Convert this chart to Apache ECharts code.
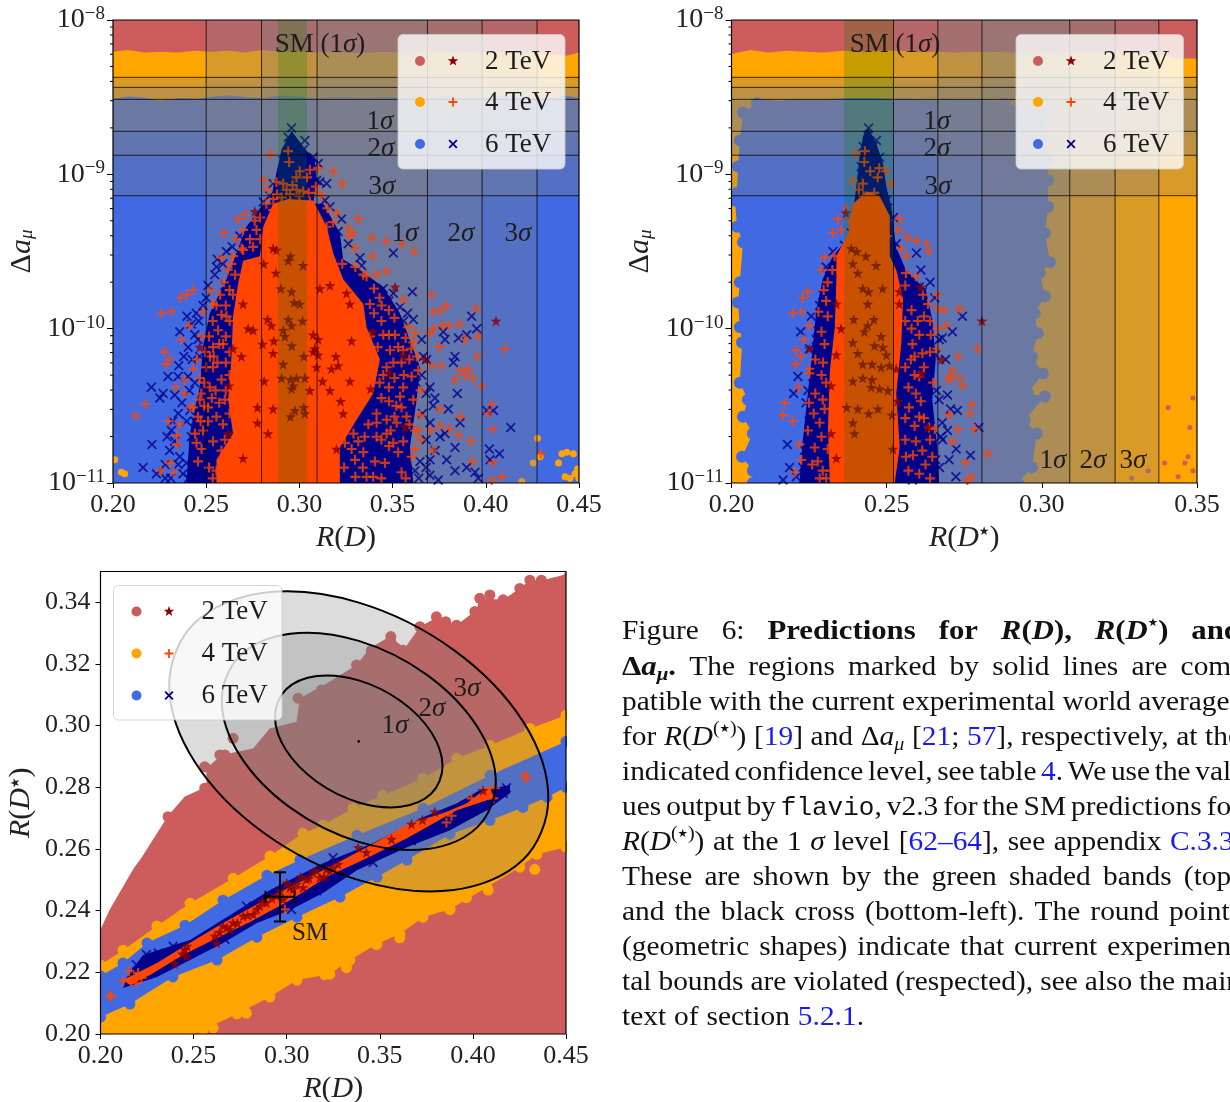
<!DOCTYPE html>
<html><head><meta charset="utf-8"><style>html,body{margin:0;padding:0;background:#fff}#c{width:1230px;height:1102px}</style>
<script src="https://cdn.jsdelivr.net/npm/echarts@6/dist/echarts.min.js"></script></head><body><div id="c"></div>
<script>
// ---------- colours
const RED='#cd5c5c',ORANGE='#ffa500',BLUE='#4169e1',STAR='#8b0000',PLUS='#ff4500',CROSS='#00008b';
const legendRows=['2 TeV','4 TeV','6 TeV'];
// ---------- experimental bands (top panels)
const dAmuBands=[[7.27e-10,4.25e-9],[1.33e-9,3.66e-9],[1.90e-9,3.06e-9]];
const rdBands=[[0.2500,0.4275],[0.2797,0.3980],[0.3095,0.3687]];
const rdsBands=[[0.2522,0.3377],[0.2665,0.3236],[0.2807,0.3090]];
const smRD=[0.2885,0.3041], smRDs=[0.2363,0.2522];
// ---------- panel A : R(D) vs log10(Δaμ)
const orangeTopA=[[.2,-8.205],[.208,-8.195],[.217,-8.21],[.226,-8.205],[.235,-8.21],[.244,-8.2],[.253,-8.205],[.262,-8.2],[.271,-8.21],[.28,-8.195],[.289,-8.205],[.298,-8.2],[.307,-8.21],[.316,-8.205],[.325,-8.21],[.334,-8.215],[.343,-8.205],[.352,-8.21],[.361,-8.205],[.37,-8.2],[.379,-8.21],[.388,-8.205],[.397,-8.21],[.406,-8.205],[.415,-8.215],[.424,-8.21],[.433,-8.22],[.442,-8.235],[.45,-8.21]];
const blueTopA=[[.2,-8.51],[.209,-8.495],[.218,-8.505],[.225,-8.525],[.236,-8.505],[.245,-8.51],[.254,-8.495],[.263,-8.49],[.272,-8.5],[.281,-8.505],[.29,-8.49],[.299,-8.495],[.308,-8.505],[.317,-8.5],[.326,-8.5],[.335,-8.505],[.344,-8.5],[.353,-8.5],[.362,-8.5],[.371,-8.505],[.38,-8.495],[.389,-8.5],[.398,-8.505],[.407,-8.495],[.416,-8.5],[.425,-8.505],[.434,-8.51],[.442,-8.49],[.45,-8.505]];
const orangeBlobsA=[[.4434,-10.80],[.447,-10.81],[.4408,-10.81],[.4479,-10.94],[.4452,-10.97],[.4425,-10.96],[.4492,-10.91],[.4499,-10.97],[.439,-10.87],[.4277,-10.71],[.4291,-10.83],[.4255,-10.87],[.4193,-10.99],[.2009,-10.85],[.2045,-10.93],[.2063,-10.94]];
const corePlusA=[[.294,-9.16],[.2859,-9.19],[.2806,-9.34],[.2788,-9.53],[.2698,-9.56],[.2671,-9.71],[.2644,-9.92],[.2635,-10.20],[.2618,-10.46],[.2644,-10.68],[.2555,-10.85],[.2555,-11],[.3217,-11],[.3217,-10.77],[.3307,-10.59],[.3396,-10.42],[.3432,-10.20],[.3360,-9.99],[.3343,-9.84],[.3235,-9.68],[.3181,-9.51],[.3146,-9.34],[.3074,-9.17]];
const coreCrossA=[[.2958,-8.72],[.302,-8.82],[.3083,-8.91],[.3092,-9.04],[.3074,-9.19],[.2841,-9.19],[.2877,-8.99],[.2904,-8.84]];
const haloCrossA=[[.2806,-9.19],[.2716,-9.34],[.2662,-9.51],[.2609,-9.68],[.2519,-9.90],[.2483,-10.12],[.2465,-10.38],[.2412,-10.68],[.2394,-11],[.3611,-11],[.3593,-10.77],[.3629,-10.46],[.3647,-10.25],[.3539,-9.90],[.345,-9.73],[.3325,-9.62],[.3235,-9.55],[.3217,-9.38],[.3128,-9.19]];
const crossA=[[.2161,-10.90],[.2206,-10.38],[.2251,-10.45],[.2269,-10.42],[.2209,-10.75],[.2233,-10.94],[.2295,-10.31],[.2349,-10.31],[.2358,-10.02],[.2331,-10.43],[.2353,-10.24],[.2397,-9.92],[.2447,-9.90],[.2439,-10.04],[.2403,-10.12],[.2456,-10.07],[.2483,-9.85],[.2465,-10.18],[.2439,-10.35],[.2412,-10.53],[.2403,-10.31],[.2313,-10.66],[.2331,-10.73],[.2304,-10.79],[.2358,-10.83],[.2394,-10.87],[.2430,-10.94],[.2376,-10.94],[.2465,-10.85],[.2501,-10.79],[.2537,-10.85],[.2483,-10.92],[.2555,-9.60],[.2546,-9.65],[.2635,-9.67],[.2600,-9.72],[.2644,-9.73],[.2698,-9.84],[.2546,-9.99],[.2573,-10.02],[.2519,-10.29],[.2501,-10.55],[.2546,-10.73],[.2591,-10.83],[.2644,-10.90],[.2698,-10.94],[.2573,-10.94],[.2618,-10.77],[.2662,-10.72],
[.3217,-9.64],[.3262,-9.62],[.3334,-9.59],[.3450,-9.74],[.3504,-9.77],[.3606,-9.76],[.3540,-9.86],[.3468,-9.97],[.3450,-9.93],[.3504,-10.02],[.3611,-9.94],[.3325,-9.97],[.3414,-10.07],[.3468,-10.10],[.3450,-10.20],[.3486,-10.29],[.3548,-10.31],[.3602,-10.26],[.3656,-10.07],[.3665,-10.18],[.3683,-10.20],[.3629,-10.35],[.3656,-10.30],[.3522,-10.40],[.3575,-10.42],[.3727,-10.45],[.3718,-10.50],[.3799,-10.52],[.3847,-10.42],[.3826,-10.22],[.3835,-10.18],[.3772,-10.02],[.3781,-10.07],[.3853,-10.06],[.3898,-10.04],[.3951,-10.0],[.3924,-9.92],[.4005,-10.53],[.4041,-10.53],[.4134,-10.64],[.3862,-10.61],[.3701,-10.61],[.3754,-10.70],[.3781,-10.68],[.3835,-10.77],[.3728,-10.79],[.4019,-10.78],[.4073,-10.81],[.4023,-10.85],[.3897,-10.90],[.3942,-10.93],[.3960,-10.97],[.3835,-10.92],[.3790,-10.85],[.3745,-10.98],[.3701,-10.85],[.3647,-10.86],[.3620,-10.92],
[.2958,-8.70],[.294,-8.76],[.3029,-8.78],[.2949,-8.80],[.2985,-8.83],[.2931,-8.86],[.3020,-8.84],[.3074,-8.89],[.3101,-8.93],[.2913,-8.91],[.2859,-9.06],[.3110,-9.05],[.3146,-9.06],[.3092,-9.04],[.3137,-9.17],[.3164,-9.21],[.3226,-9.29],[.3208,-9.37],[.3262,-9.45],[.3199,-9.47],[.3504,-9.51],[.3325,-9.54],[.2608,-9.50],[.2806,-9.18],[.2841,-9.14],[.2770,-9.34],[.2716,-9.47],[.2752,-9.51],[.2823,-9.32],
[.2445,-10.80],[.2420,-10.70],[.2395,-10.60],[.2370,-10.48],[.2350,-10.55],[.2320,-10.60],[.2290,-10.70],[.2280,-10.88],[.2310,-10.97],[.2350,-10.88],[.2280,-10.97],[.2405,-10.97],[.2440,-10.60],[.2425,-10.20],[.2380,-10.18],[.2410,-10.40],[.2420,-9.97],[.2460,-9.95],[.2500,-9.80],[.2510,-9.72],[.2560,-9.55],[.2590,-9.58],[.2640,-9.47],[.2680,-9.40],[.3680,-10.42],[.3660,-10.55],[.3700,-10.38],[.3680,-10.72],[.3640,-10.97],[.3700,-10.95],[.3680,-10.90],[.3560,-9.95],[.3580,-9.90],[.3480,-9.82]];
const plusA=[[.2847,-8.87],[.2940,-8.85],[.2945,-8.92],[.3002,-8.98],[.3056,-8.97],[.3101,-8.96],[.3181,-8.98],[.3230,-9.06],[.2984,-9.02],[.3041,-9.02],[.2809,-9.04],[.2877,-9.05],[.2913,-9.06],[.2963,-9.07],[.3088,-9.08],[.3092,-9.12],[.2931,-9.10],[.2985,-9.10],[.3020,-9.11],[.3056,-9.18],[.2823,-9.19],[.2859,-9.23],[.2671,-9.29],[.2710,-9.26],[.2760,-9.30],[.2698,-9.36],[.2596,-9.38],[.2770,-9.36],[.2698,-9.49],[.2752,-9.47],[.2644,-9.53],[.2581,-9.54],[.3074,-9.25],[.3181,-9.31],[.3316,-9.29],[.3262,-9.35],[.3284,-9.38],[.3388,-9.41],[.3465,-9.43],[.3552,-9.45],[.3616,-9.50],[.3392,-9.53],[.3298,-9.48],[.3146,-9.34],
[.2122,-10.565],[.2175,-10.49],[.2277,-10.15],[.2304,-10.20],[.2286,-10.23],[.226,-9.90],[.2313,-9.89],[.2362,-9.80],[.2397,-9.78],[.243,-9.75],[.2299,-10.60],[.2358,-10.62],[.2344,-10.69],[.2344,-10.75],[.2304,-10.87],[.2256,-10.92],[.2326,-10.93],[.2337,-10.38],[.2385,-10.33],[.2385,-10.42],[.2415,-10.51],[.243,-10.26],[.2367,-10.07],[.2408,-9.98],[.2483,-9.89],[.2523,-9.75],
[.3709,-9.78],[.3718,-9.89],[.3758,-9.88],[.379,-9.85],[.3947,-9.87],[.3718,-10.0],[.37,-10.03],[.3769,-9.98],[.38,-9.98],[.3858,-9.97],[.3888,-10.07],[.396,-10.05],[.4103,-10.13],[.3955,-10.18],[.3751,-10.12],[.3906,-10.26],[.3862,-10.27],[.3888,-10.30],[.393,-10.32],[.3978,-10.37],[.3835,-10.33],[.371,-10.24],[.3758,-10.24],[.4032,-10.49],[.4014,-10.55],[.3865,-10.57],[.3754,-10.52],[.4037,-10.65],[.3853,-10.69],[.3754,-10.63],[.3804,-10.65],[.3706,-10.66],[.3919,-10.73],[.3715,-10.79],[.393,-10.86],[.4037,-10.87],[.4085,-10.96],[.4032,-10.98],[.4295,-10.81],
[.2537,-10.12],[.2591,-10.10],[.2564,-10.01],[.2609,-9.92],[.2537,-9.84],[.2582,-9.91],[.2644,-9.78],[.2537,-10.25],[.2582,-10.33],[.2519,-10.38],[.2465,-10.46],[.2474,-10.42],[.2456,-10.57],[.2510,-10.51],[.2555,-10.57],[.2600,-10.46],[.2448,-10.74],[.2537,-10.73],[.2483,-10.66],[.2555,-10.92],[.2626,-10.83],[.2689,-10.94],[.2716,-10.85],[.2456,-10.86],[.2582,-10.79],[.2465,-10.32],[.2430,-10.51],
[.345,-10.04],[.3513,-10.04],[.3557,-9.81],[.3414,-9.65],[.3468,-9.63],[.3343,-9.65],[.3378,-9.84],[.3441,-9.85],[.3504,-10.22],[.3486,-10.14],[.3468,-10.25],[.3584,-9.99],[.3620,-10.03],[.3611,-10.09],[.3557,-10.14],[.3548,-10.22],[.3602,-10.31],[.3638,-10.27],[.3557,-10.38],[.3548,-10.51],[.3575,-10.57],[.3611,-10.46],[.3414,-10.55],[.3414,-10.61],[.3468,-10.59],[.3522,-10.61],[.3468,-10.68],[.3414,-10.70],[.3343,-10.80],[.3298,-10.85],[.3405,-10.86],[.3244,-10.74],[.3316,-10.73],[.3360,-10.96],[.3396,-10.96],[.3459,-10.87],[.3548,-10.93],[.3602,-10.83],[.3638,-10.66],[.3557,-10.73],[.3504,-10.74],[.3647,-10.56],[.3620,-10.66],
[.2475,-10.05],[.2495,-10.15],[.2515,-10.05],[.2535,-9.95],[.2555,-9.85],[.2575,-9.78],[.2595,-9.70],[.2615,-9.62],[.2635,-9.58],[.2655,-9.65],[.2625,-9.75],[.2605,-9.85],[.2625,-9.95],[.2605,-10.05],[.2625,-10.15],[.2605,-10.22],[.2625,-10.30],[.2605,-10.40],[.2625,-10.55],[.2590,-10.62],[.2570,-10.48],[.2550,-10.40],[.2530,-10.45],[.2510,-10.60],[.2490,-10.50],[.2470,-10.60],[.2560,-10.22],[.2540,-10.18],[.2520,-10.18],[.2500,-10.25],[.2490,-10.35],[.2450,-10.20],[.2570,-10.10],[.2440,-10.68],[.2475,-10.78],[.2515,-10.90],[.2535,-10.97],[.2600,-10.72],[.2640,-10.78],[.2665,-10.92],[.2605,-10.95],[.2630,-10.97],[.2700,-10.97],[.2740,-10.90],[.2750,-10.97],[.2780,-10.92],[.2810,-10.95],[.2815,-10.88],[.2690,-9.48],[.2735,-9.42],[.2790,-9.28],[.2660,-9.42],
[.3300,-9.60],[.3360,-9.66],[.3400,-9.74],[.3430,-9.80],[.3480,-9.88],[.3510,-9.93],[.3440,-9.95],[.3400,-9.90],[.3380,-10.05],[.3420,-10.12],[.3450,-10.30],[.3480,-10.38],[.3430,-10.35],[.3510,-10.32],[.3540,-10.44],[.3480,-10.47],[.3440,-10.45],[.3590,-10.20],[.3560,-10.30],[.3530,-10.12],[.3570,-10.06],[.3600,-10.13],[.3630,-10.18],[.3480,-10.04],[.3650,-10.40],[.3520,-10.50],[.3490,-10.66],[.3440,-10.72],[.3370,-10.62],[.3350,-10.70],[.3290,-10.68],[.3260,-10.62],[.3280,-10.78],[.3240,-10.90],[.3300,-10.96],[.3340,-10.90],[.3440,-10.97],[.3480,-10.76],[.3530,-10.80],[.3570,-10.97],[.3620,-10.78],[.3650,-10.72],[.3590,-10.62],[.3510,-10.57],
[.3130,-9.45],[.3160,-9.55],[.3230,-9.58],[.3270,-9.40],[.3200,-9.25],[.3120,-9.14],[.3150,-9.22],[.2880,-9.13],[.2905,-9.15],[.2950,-9.13],[.3000,-9.14],[.3050,-9.12],[.2830,-9.10],[.2860,-9.16],[.2790,-9.42]];
const starA=[[.2761,-9.24],[.2859,-9.48],[.2877,-9.49],[.2952,-9.53],[.294,-9.56],[.302,-9.59],[.2809,-9.58],[.2874,-9.64],[.29,-9.74],[.2958,-9.76],[.311,-9.74],[.3164,-9.72],[.3253,-9.77],[.3271,-9.84],[.3513,-9.73],[.2972,-9.83],[.3002,-9.84],[.2698,-9.84],[.2829,-9.94],[.285,-9.98],[.294,-9.94],[.2958,-9.98],[.3017,-9.95],[.2913,-10.01],[.2922,-10.05],[.2725,-10.0],[.2752,-10.01],[.3393,-10.02],[.4055,-9.95],[.2863,-10.08],[.2802,-10.10],[.2959,-10.11],[.3074,-10.04],[.3101,-10.07],[.3083,-10.13],[.2859,-10.16],[.3074,-10.15],[.3101,-10.17],[.3024,-10.18],[.2913,-10.23],[.2465,-10.12],[.2644,-10.13],[.2689,-10.18],[.3196,-10.18],[.3208,-10.24],[.3172,-10.26],[.3092,-10.25],[.328,-10.08],[.3557,-10.17],[.3674,-10.20],[.2904,-10.32],[.2952,-10.33],[.2984,-10.32],[.3029,-10.32],[.2967,-10.37],[.2958,-10.39],[.2811,-10.34],[.3124,-10.34],[.3271,-10.34],[.3482,-10.29],[.2623,-10.37],[.3056,-10.40],[.3164,-10.40],[.3382,-10.39],[.3221,-10.47],[.2775,-10.51],[.2859,-10.52],[.3024,-10.51],[.2976,-10.53],[.2952,-10.57],[.3029,-10.55],[.3235,-10.55],[.2775,-10.61],[.3566,-10.64],[.2832,-10.68],[.2618,-10.68],[.3199,-10.78],[.2698,-10.84]];
// ---------- panel B : R(D*) vs log10(Δaμ)
const orangeTopB=[[.2,-8.22],[.206,-8.195],[.212,-8.21],[.218,-8.2],[.224,-8.205],[.23,-8.21],[.236,-8.2],[.242,-8.205],[.248,-8.2],[.254,-8.2],[.26,-8.205],[.266,-8.205],[.272,-8.21],[.278,-8.205],[.284,-8.205],[.29,-8.21],[.296,-8.205],[.302,-8.21],[.308,-8.205],[.314,-8.21],[.32,-8.205],[.326,-8.215],[.332,-8.22],[.338,-8.225],[.344,-8.25],[.35,-8.25]];
const blueLeftB=[[.2069,-11],[.2069,-10.92],[.2034,-10.83],[.2069,-10.68],[.2037,-10.57],[.2053,-10.46],[.2027,-10.35],[.2034,-10.09],[.2027,-9.99],[.2021,-9.83],[.2027,-9.70],[.2037,-9.44],[.2018,-9.34],[.2011,-9.17],[.2018,-9.12],[.2021,-8.95],[.2027,-8.78],[.2037,-8.60],[.2082,-8.54]];
const blueTopB=[[.2092,-8.51],[.215,-8.525],[.221,-8.51],[.227,-8.515],[.233,-8.51],[.239,-8.505],[.245,-8.505],[.251,-8.51],[.257,-8.51],[.263,-8.515],[.269,-8.51],[.275,-8.515],[.281,-8.51]];
const blueRightB=[[.288,-8.54],[.301,-8.60],[.302,-8.91],[.302,-9.04],[.302,-9.21],[.301,-9.38],[.3026,-9.57],[.2993,-9.64],[.301,-9.79],[.2977,-9.90],[.2987,-10.03],[.2968,-10.18],[.3003,-10.29],[.2955,-10.42],[.301,-10.44],[.2945,-10.59],[.2984,-10.68],[.2968,-10.90],[.2923,-11]];
const redBlobsB=[[.3461,-10.87],[.3471,-10.83],[.3487,-10.92],[.3439,-10.96],[.3477,-10.64],[.3487,-10.45],[.3407,-10.51],[.3396,-10.87],[.3343,-10.92],[.3289,-10.97]];
const corePlusB=[[.2435,-9.11],[.2392,-9.19],[.2376,-9.38],[.2338,-9.53],[.2338,-9.68],[.2333,-9.99],[.2317,-10.27],[.2311,-10.64],[.2317,-11],[.2526,-11],[.2542,-10.77],[.2531,-10.42],[.2547,-10.10],[.2553,-9.81],[.2531,-9.62],[.2510,-9.53],[.2510,-9.27],[.2477,-9.14]];
const coreCrossB=[[.2440,-8.70],[.2467,-8.80],[.2488,-8.93],[.2499,-9.08],[.2515,-9.21],[.2520,-9.30],[.2391,-9.25],[.2402,-9.08],[.2413,-8.88],[.2424,-8.75]];
const haloCrossB=[[.2369,-9.43],[.2326,-9.53],[.2294,-9.68],[.2273,-9.88],[.2262,-10.12],[.2246,-10.42],[.223,-10.72],[.2219,-11],[.2669,-11],[.2663,-10.77],[.2647,-10.46],[.2658,-10.20],[.2647,-9.94],[.2626,-9.75],[.2562,-9.62],[.253,-9.47],[.252,-9.30]];
const crossB=[[.2442,-8.70],[.2467,-8.78],[.244,-8.75],[.2424,-8.82],[.2477,-8.89],[.2456,-8.82],[.2435,-8.95],[.2499,-9.17],[.2504,-9.22],[.2522,-9.28],[.2531,-9.45],[.252,-9.48],[.2596,-9.51],[.2327,-9.50],[.2364,-9.46],[.2418,-8.95],[.2386,-9.38],
[.2305,-9.60],[.2332,-9.68],[.2316,-9.66],[.2583,-9.77],[.2605,-9.73],[.2615,-9.76],[.2578,-9.81],[.2744,-9.92],[.2284,-9.85],[.2257,-9.92],[.2278,-10.01],[.2223,-10.02],[.2273,-10.07],[.2251,-10.13],[.2712,-10.02],[.2679,-10.06],[.2669,-10.07],[.2658,-10.17],[.269,-10.20],[.2214,-10.31],[.2262,-10.31],[.2200,-10.42],[.2246,-10.40],[.2284,-10.31],[.2294,-10.39],[.2696,-10.43],[.2669,-10.46],[.2706,-10.52],[.2728,-10.53],[.2797,-10.64],[.2679,-10.61],[.261,-10.67],[.2696,-10.66],[.2180,-10.75],[.2187,-10.90],[.2166,-10.98],[.2209,-10.96],[.2235,-10.79],[.2251,-10.85],[.223,-10.90],[.2273,-10.94],[.2294,-10.68],[.2305,-10.81],[.2327,-10.85],[.2284,-10.87],[.2343,-10.96],[.2674,-10.70],[.2724,-10.78],[.277,-10.82],[.2701,-10.85],[.2658,-10.85],[.2723,-10.96],[.2647,-10.94],[.2626,-10.81],[.2562,-10.94],[.2594,-10.87],[.2583,-10.98],[.2546,-10.83],[.2605,-10.77],[.2572,-10.64],[.2615,-10.51],[.2562,-10.46],
[.2250,-10.60],[.2240,-10.48],[.2280,-10.50],[.2265,-10.72],[.2240,-10.95],[.2295,-9.78],[.2670,-10.90],[.2680,-10.72],[.2660,-10.40],[.2655,-9.80],[.2640,-9.70],[.2610,-9.62]];
const plusB=[[.2401,-8.87],[.243,-8.85],[.2428,-8.92],[.2447,-8.98],[.2476,-8.96],[.2498,-8.98],[.2514,-9.06],[.2391,-9.04],[.2423,-9.06],[.2471,-9.02],[.2343,-9.29],[.2327,-9.38],[.2353,-9.36],[.2541,-9.29],[.2538,-9.36],[.2567,-9.41],[.2596,-9.43],[.2629,-9.45],[.2635,-9.50],[.2546,-9.48],[.2564,-9.53],[.23,-9.54],[.2332,-9.53],
[.223,-9.80],[.2246,-9.76],[.2297,-9.75],[.2198,-9.90],[.2225,-9.89],[.228,-9.89],[.2251,-9.98],[.2233,-10.07],[.2207,-10.14],[.2225,-10.18],[.2207,-10.23],[.2251,-10.26],[.2216,-10.38],[.2251,-10.29],[.2171,-10.48],[.2166,-10.56],[.2198,-10.60],[.2219,-10.75],[.2246,-10.66],[.2268,-10.77],[.2225,-10.85],[.2204,-10.93],[.2278,-10.86],[.2284,-10.61],[.2294,-10.46],[.2294,-10.92],[.2321,-10.92],[.2284,-10.97],[.2305,-10.97],
[.2662,-9.78],[.2617,-9.78],[.2633,-9.84],[.2663,-9.87],[.2685,-9.88],[.2735,-9.87],[.269,-9.98],[.2663,-10.0],[.2594,-9.66],[.2562,-9.64],[.2792,-10.13],[.2731,-10.18],[.2712,-10.27],[.2706,-10.31],[.2735,-10.32],[.2746,-10.37],[.2701,-10.33],[.2605,-10.04],[.2642,-10.04],[.2663,-10.13],[.2775,-10.49],[.2769,-10.55],[.2701,-10.56],[.2729,-10.65],[.2783,-10.65],[.2826,-10.81],[.2712,-10.73],[.2755,-10.87],[.2774,-10.96],[.276,-10.98],[.2647,-10.83],[.2605,-10.94],[.2562,-10.83],[.2637,-10.64],[.2615,-10.79],[.2594,-10.73],[.2605,-10.57],[.2572,-10.51],[.2594,-10.42],[.2605,-10.31],[.2578,-10.20],[.2615,-10.16],[.2583,-10.10],
[.2290,-10.02],[.2300,-10.10],[.2270,-10.20],[.2290,-10.30],[.2270,-10.42],[.2300,-10.52],[.2265,-10.55],[.2250,-10.48],[.2290,-10.70],[.2310,-10.78],[.2260,-10.88],[.2305,-9.82],[.2310,-9.70],[.2290,-9.62],[.2325,-9.62],[.2310,-9.92],[.2295,-10.22],[.2305,-10.35],
[.2560,-9.72],[.2580,-9.88],[.2600,-9.95],[.2560,-9.95],[.2620,-9.92],[.2580,-10.00],[.2560,-10.25],[.2590,-10.30],[.2620,-10.25],[.2570,-10.38],[.2610,-10.47],[.2560,-10.58],[.2590,-10.63],[.2620,-10.58],[.2640,-10.72],[.2560,-10.72],[.2585,-10.82],[.2625,-10.88],[.2570,-10.92],[.2640,-10.97],[.2655,-10.65],[.2650,-10.35],[.2640,-10.15],[.2640,-9.95],[.2590,-10.18],[.2380,-9.30],[.2480,-9.25],[.2500,-9.40],[.2370,-9.22],[.2425,-9.14],[.2460,-9.12],[.2410,-9.10]];
const starB=[[.2369,-9.25],[.2386,-9.48],[.2404,-9.50],[.2433,-9.53],[.2391,-9.58],[.2466,-9.59],[.2407,-9.64],[.2423,-9.74],[.2442,-9.76],[.2487,-9.74],[.2541,-9.76],[.261,-9.73],[.2338,-9.84],[.2439,-9.84],[.2541,-9.84],[.2807,-9.95],[.2394,-9.94],[.2459,-9.94],[.2439,-9.98],[.2428,-10.02],[.2353,-10.0],[.2482,-10.05],[.2391,-10.09],[.2461,-10.11],[.2488,-10.12],[.2251,-10.13],[.2407,-10.16],[.2499,-10.17],[.2338,-10.17],[.2676,-10.20],[.2423,-10.23],[.2453,-10.23],[.2482,-10.25],[.2509,-10.24],[.2531,-10.26],[.2423,-10.32],[.2453,-10.33],[.2391,-10.34],[.2321,-10.37],[.2477,-10.39],[.2504,-10.40],[.245,-10.38],[.2535,-10.47],[.2613,-10.29],[.2371,-10.51],[.2407,-10.52],[.2472,-10.52],[.2442,-10.55],[.2517,-10.56],[.2391,-10.61],[.2396,-10.68],[.2633,-10.64],[.2321,-10.68],[.2338,-10.84],[.252,-10.78]];
// ---------- panel C : R(D) vs R(D*)
const redRegionC=[[.2,.2339],[.205,.2404],[.2175,.2534],[.222,.2572],[.2363,.2708],[.2453,.277],[.2569,.2802],[.2569,.2862],[.265,.2905],[.282,.2926],[.2909,.2991],[.3053,.3013],[.3070,.3089],[.3232,.3143],[.3375,.3197],[.3446,.3251],[.3554,.3289],[.3634,.3251],[.3715,.3321],[.3813,.3353],[.3912,.3326],[.4019,.3375],[.4037,.3413],[.4162,.3408],[.4252,.3445],[.4306,.3472],[.4377,.3472],[.4485,.3489],[.45,.35],[.45,.2],[.2,.2]];
const redBumpsC=[[.3559,.3289],[.3559,.3272],[.3715,.3321],[.3804,.3353],[.3854,.3337],[.3813,.3319],[.3912,.3326],[.3974,.3299],[.4037,.3413],[.4091,.3424],[.401,.337],[.4073,.3343],[.4162,.3408],[.4171,.3364],[.4252,.3445],[.4306,.3472],[.4368,.3472],[.4431,.3462],[.3625,.3245],[.3733,.3245],[.3455,.3245],[.3375,.3197],[.3428,.3197],[.3241,.3126],[.3187,.3116],[.3061,.3089],[.3142,.3083],[.3223,.3056],[.2712,.2959],[.2641,.2905],[.2668,.2905],[.256,.2867],[.256,.2797],[.2363,.2705]];
const orangeUpC=[[.2,.2224],[.2121,.2272],[.2303,.235],[.2481,.2424],[.2712,.2505],[.291,.2577],[.3087,.2651],[.3195,.2677],[.3356,.2732],[.3517,.2774],[.3732,.2829],[.3914,.2894],[.4092,.2936],[.4306,.2991],[.45,.3034]];
const orangeLowC=[[.45,.2606],[.4344,.2583],[.4252,.2541],[.4075,.2476],[.3877,.2405],[.3732,.2379],[.3608,.2324],[.3485,.2292],[.334,.224],[.3232,.2194],[.3055,.2175],[.291,.212],[.2733,.2065],[.255,.2013],[.25,.2],[.2,.2]];
const orangeBumpsC=[[.4332,.2534],[.4082,.2467],[.3965,.2442],[.3876,.2404],[.3607,.2312],[.3482,.229],[.3321,.2215],[.3205,.2193],[.2784,.2068],[.2605,.2020]];
const blueUpC=[[.2,.2188],[.2121,.223],[.225,.2295],[.2454,.2353],[.2658,.2434],[.2894,.2515],[.3071,.2564],[.3377,.2645],[.3732,.2732],[.4092,.2839],[.45,.2949]];
const blueLowC=[[.45,.28],[.4398,.2768],[.4269,.2735],[.4092,.2693],[.3877,.2648],[.3646,.2564],[.3485,.2509],[.3286,.2444],[.3055,.2379],[.284,.2314],[.2626,.224],[.2389,.2185],[.2158,.2097],[.2,.2055]];
const navyStripC=[[.2143,.2185],[.2228,.2256],[.2481,.2305],[.2712,.2392],[.291,.2467],[.3195,.2554],[.3463,.2619],[.3732,.2703],[.3914,.2748],[.4038,.2791],[.4199,.2807],[.4199,.2781],[.4161,.2765],[.4075,.2726],[.3877,.2661],[.3646,.2606],[.3377,.2531],[.3195,.2457],[.3018,.2402],[.284,.236],[.2658,.2295],[.2481,.224],[.2303,.2185],[.2121,.2149]];
const plusStripC=[[.2121,.2175],[.2303,.223],[.2443,.2282],[.2658,.236],[.291,.2444],[.3195,.2531],[.3431,.2606],[.3662,.2684],[.3839,.2716],[.3968,.2748],[.4092,.2807],[.4108,.2765],[.3914,.2726],[.3646,.2635],[.341,.2564],[.3232,.2515],[.3018,.2434],[.2803,.2363],[.2626,.2311],[.2443,.2256],[.2266,.2191],[.2158,.2159]];
const plusC=[[.2122,.2171],[.2154,.2204],[.2202,.2198],[.2166,.2171],[.222,.2182],[.2193,.2166],[.2059,.2122],[.205,.2125],[.299,.2404],[.4279,.2838],[.4288,.2829],[.4118,.2797],[.4073,.2775],[.3992,.2764],[.4109,.2764],[.3885,.2708],[.3858,.2686]];
const crossC=[[.418,.2799],[.4162,.2781],[.4028,.2732],[.2247,.2258],[.231,.2263],[.2668,.2307],[.3249,.2572],[.3026,.2404],[.316,.2464],[.3849,.2675],[.367,.2627],[.4019,.2735],[.4055,.2740],[.2193,.2225],[.239,.2285],[.2784,.2415],[.3017,.248],[.3464,.2556]];
const starC=[[.2399,.2228],[.2453,.2274],[.2462,.2253],[.2614,.2318],[.2659,.235],[.2712,.2361],[.2766,.2383],[.282,.2388],[.2891,.2426],[.2945,.2448],[.3017,.2475],[.3053,.2486],[.3106,.2502],[.3178,.2507],[.3214,.2534],[.3276,.2551],[.3384,.2605],[.3428,.2589],[.3563,.2632],[.367,.2681],[.3729,.2695],[.3795,.2721],[.4055,.279],[.2695,.2339],[.2856,.2415],[.3088,.2475],[.3142,.2524],[.3232,.2529],[.2981,.2437],[.2640,.2330],[.2680,.2345],[.2735,.2360],[.2790,.2385],[.2840,.2405],[.2870,.2430],[.2920,.2440],[.2965,.2465],[.3000,.2490],[.3035,.2470],[.3075,.2510],[.3120,.2505],[.3160,.2530],[.3200,.2510],[.3250,.2540],[.2465,.2285],[.2440,.2260],[.2625,.2295]];
const ellipse3=[[.4405,.2765],[.4269,.2565],[.3896,.2467],[.3387,.2499],[.2878,.2652],[.2505,.2884],[.2369,.3133],[.2505,.3333],[.2878,.3431],[.3387,.3399],[.3896,.3246],[.4269,.3014]];
const ellipse2=[[.4123,.2816],[.4024,.2671],[.3755,.2600],[.3387,.2623],[.3019,.2734],[.2750,.2902],[.2651,.3082],[.2750,.3227],[.3019,.3298],[.3387,.3275],[.3755,.3164],[.4024,.2996]];
const ellipse1=[[.3837,.2868],[.3777,.2780],[.3612,.2737],[.3387,.2751],[.3162,.2818],[.2997,.2920],[.2937,.3030],[.2997,.3118],[.3162,.3161],[.3387,.3147],[.3612,.3080],[.3777,.2978]];
const expPoint=[0.3387,0.2949];
const smPoint=[0.2964,0.2445], smErr=[0.0078,0.0080];
// ---------- ticks
const yTicksC=[.2,.22,.24,.26,.28,.3,.32,.34];
const minorMult=[2,3,4,5,6,7,8,9], minorExp=[-11,-10,-9];
// ---------- symbols
const SYM_X='path://M-4,-3 L-3,-4 L0,-1 L3,-4 L4,-3 L1,0 L4,3 L3,4 L0,1 L-3,4 L-4,3 L-1,0 Z';
const SYM_P='path://M-.85,-4 H.85 V-.85 H4 V.85 H.85 V4 H-.85 V.85 H-4 V-.85 H-.85 Z';
const SYM_S='path://M0,-5 L1.18,-1.62 L4.76,-1.55 L1.9,.62 L2.94,4.05 L0,2 L-2.94,4.05 L-1.9,.62 L-4.76,-1.55 L-1.18,-1.62 Z';

const F='"Liberation Serif",serif';
const logPts=a=>a.map(p=>[p[0],Math.pow(10,p[1])]);
const series=[];
function shape(grid,z,clip,fn){
  series.push({type:'custom',coordinateSystem:'cartesian2d',xAxisIndex:grid,yAxisIndex:grid,z,clip,silent:true,animation:false,
    data:[[ [.3,1e-10],[.3,1e-10],[.3,.25] ][grid]],
    renderItem:(p,api)=>({type:'group',children:fn(api)})});
}
function dots(grid,z,data,sym,size,color){
  series.push({type:'scatter',xAxisIndex:grid,yAxisIndex:grid,z,silent:true,animation:false,clip:true,data,symbol:sym,symbolSize:size,itemStyle:{color}});
}
function blobs(grid,z,data,r,color){
  shape(grid,z,true,api=>data.map(p=>{const c=api.coord(p);return {type:'circle',shape:{cx:c[0],cy:c[1],r},style:{fill:color}};}));
}
function poly(api,pts,fill,extra){
  return {type:'polygon',shape:Object.assign({points:pts.map(p=>api.coord(p))},extra&&extra.shape||{}),style:Object.assign({fill},extra&&extra.style||{})};
}
function topPanel(g,xr,orangeTop,blueFn,bandsX,sm,core,coreX,cross,plus,star){
  const yr=[1e-11,1e-8];
  shape(g,1,true,api=>[poly(api,[[xr[0],yr[1]],[xr[1],yr[1]],[xr[1],yr[0]],[xr[0],yr[0]]],RED)]);
  shape(g,2,true,api=>[poly(api,logPts(orangeTop).concat([[xr[1],yr[0]],[xr[0],yr[0]]]),ORANGE)]);
  blueFn();
  const GR='rgba(128,128,128,0.3)';
  shape(g,4,true,api=>{
    const out=[];
    bandsX.forEach(b=>out.push(poly(api,[[b[0],yr[1]],[b[1],yr[1]],[b[1],yr[0]],[b[0],yr[0]]],GR)));
    dAmuBands.forEach(b=>out.push(poly(api,[[xr[0],b[1]],[xr[1],b[1]],[xr[1],b[0]],[xr[0],b[0]]],GR)));
    return out;
  });
  shape(g,5,true,api=>coreX.map(c=>poly(api,logPts(c),CROSS)));
  dots(g,5,logPts(cross),SYM_X,10,CROSS);
  shape(g,6,true,api=>[poly(api,logPts(core),PLUS)]);
  dots(g,6,logPts(plus),SYM_P,10,PLUS);
  dots(g,7,logPts(star),SYM_S,11,STAR);
  shape(g,8,true,api=>{
    const out=[poly(api,[[sm[0],yr[1]],[sm[1],yr[1]],[sm[1],yr[0]],[sm[0],yr[0]]],'rgba(0,128,0,0.22)')];
    const LN={stroke:'rgba(0,0,0,0.75)',lineWidth:1};
    bandsX.forEach(b=>b.forEach(v=>{const a=api.coord([v,yr[0]]),c=api.coord([v,yr[1]]);out.push({type:'line',shape:{x1:a[0],y1:a[1],x2:c[0],y2:c[1]},style:LN});}));
    dAmuBands.forEach(b=>b.forEach(v=>{const a=api.coord([xr[0],v]),c=api.coord([xr[1],v]);out.push({type:'line',shape:{x1:a[0],y1:a[1],x2:c[0],y2:c[1]},style:LN});}));
    return out;
  });
  shape(g,30,false,api=>{
    const out=[];
    minorExp.forEach(e=>minorMult.forEach(m=>{const a=api.coord([xr[0],m*Math.pow(10,e)]);out.push({type:'line',shape:{x1:a[0]-3,y1:a[1],x2:a[0],y2:a[1]},style:{stroke:'#000',lineWidth:1}});}));
    const tl=api.coord([xr[0],yr[1]]),br=api.coord([xr[1],yr[0]]);
    out.push({type:'rect',shape:{x:tl[0],y:tl[1],width:br[0]-tl[0],height:br[1]-tl[1]},style:{fill:'none',stroke:'#000',lineWidth:1.2}});
    return out;
  });
}
topPanel(0,[.2,.45],orangeTopA,()=>{
  shape(0,3,true,api=>[poly(api,logPts(blueTopA).concat([[.45,1e-11],[.2,1e-11]]),BLUE)]);
  blobs(0,3,logPts(orangeBlobsA),3.5,ORANGE);
},rdBands,smRD,corePlusA,[haloCrossA,coreCrossA],crossA,plusA,starA);
topPanel(1,[.2,.35],orangeTopB,()=>{
  shape(1,3,true,api=>[poly(api,logPts(blueLeftB.concat(blueTopB,blueRightB)),BLUE)]);
  blobs(1,3,logPts(blueLeftB.concat(blueRightB)),6,BLUE);
  blobs(1,3,logPts(redBlobsB),2.5,RED);
},rdsBands,smRDs,corePlusB,[haloCrossB,coreCrossB],crossB,plusB,starB);
// panel C
shape(2,1,true,api=>[poly(api,redRegionC,RED)]);
blobs(2,1,redBumpsC,5.5,RED);
shape(2,2,true,api=>[poly(api,orangeUpC.concat(orangeLowC),ORANGE)]);
blobs(2,2,orangeUpC.concat(orangeLowC.slice(0,14),orangeBumpsC),5.5,ORANGE);
shape(2,3,true,api=>[poly(api,blueUpC.concat(blueLowC),BLUE)]);
blobs(2,3,blueUpC.concat(blueLowC),5.5,BLUE);
shape(2,4,true,api=>[ellipse3,ellipse2,ellipse1].map(e=>poly(api,e,'rgba(128,128,128,0.28)',{shape:{smooth:0.35}})));
shape(2,5,true,api=>[poly(api,navyStripC,CROSS)]);
dots(2,5,crossC,SYM_X,10,CROSS);
shape(2,6,true,api=>[poly(api,plusStripC,PLUS)]);
dots(2,6,plusC,SYM_P,10,PLUS);
dots(2,7,starC,SYM_S,11,STAR);
shape(2,8,true,api=>{
  const out=[ellipse3,ellipse2,ellipse1].map(e=>poly(api,e,'none',{shape:{smooth:0.35},style:{stroke:'#000',lineWidth:2}}));
  const c=api.coord(expPoint);out.push({type:'circle',shape:{cx:c[0],cy:c[1],r:1.3},style:{fill:'#000'}});
  const S={stroke:'#000',lineWidth:2};
  const l=api.coord([smPoint[0]-smErr[0],smPoint[1]]),r=api.coord([smPoint[0]+smErr[0],smPoint[1]]),t=api.coord([smPoint[0],smPoint[1]+smErr[1]]),b=api.coord([smPoint[0],smPoint[1]-smErr[1]]);
  const L=(x1,y1,x2,y2)=>out.push({type:'line',shape:{x1,y1,x2,y2},style:S});
  L(l[0],l[1],r[0],r[1]);L(t[0],t[1],b[0],b[1]);L(l[0],l[1]-6,l[0],l[1]+6);L(r[0],r[1]-6,r[0],r[1]+6);L(t[0]-6,t[1],t[0]+6,t[1]);L(b[0]-6,b[1],b[0]+6,b[1]);
  return out;
});
shape(2,30,false,api=>{
  const tl=api.coord([.2,.35]),br=api.coord([.45,.2]);
  return [{type:'rect',shape:{x:tl[0],y:tl[1],width:br[0]-tl[0],height:br[1]-tl[1]},style:{fill:'none',stroke:'#000',lineWidth:1.2}}];
});
// ---------- axes
const rich={i:{fontFamily:F,fontStyle:'italic',fontSize:30,color:'#222'},r:{fontFamily:F,fontSize:30,color:'#222'},
  u:{fontFamily:'"DejaVu Sans"',fontSize:12,color:'#222',padding:[0,0,12,0]},d:{fontFamily:F,fontStyle:'italic',fontSize:19,color:'#222',padding:[10,0,0,0]},
  b:{fontFamily:F,fontSize:28,color:'#222'},e:{fontFamily:F,fontSize:19,color:'#222',padding:[0,0,12,0]}};
const NR='{i|R}{r|(}{i|D}{r|)}',NRS='{i|R}{r|(}{i|D}{u|★}{r|)}',NA='{r|Δ}{i|a}{d|μ}';
function xA(g,min,max,name,gap){return {type:'value',gridIndex:g,min,max,interval:.05,splitLine:{show:false},axisLine:{show:false},
  axisTick:{show:true,length:5,lineStyle:{color:'#000'}},
  axisLabel:{fontFamily:F,fontSize:26,color:'#222',margin:9,formatter:v=>v.toFixed(2),showMinLabel:true,showMaxLabel:true,hideOverlap:false},
  name,nameLocation:'middle',nameGap:gap,nameTextStyle:{rich}};}
function yLog(g){return {type:'log',logBase:10,gridIndex:g,min:1e-11,max:1e-8,splitLine:{show:false},minorTick:{show:false},axisLine:{show:false},
  axisTick:{show:true,length:6,lineStyle:{color:'#000'}},
  axisLabel:{margin:8,formatter:v=>'{b|10}{e|−'+Math.abs(Math.round(Math.log10(v)))+'}',rich,showMinLabel:true,showMaxLabel:true},
  name:NA,nameLocation:'middle',nameGap:76,nameRotate:90,nameTextStyle:{rich}};}
const yC={type:'value',gridIndex:2,min:.2,max:.35,splitLine:{show:false},axisLine:{show:false},
  axisTick:{show:true,length:5,lineStyle:{color:'#000'},customValues:yTicksC},
  axisLabel:{fontFamily:F,fontSize:26,color:'#222',margin:10,customValues:yTicksC,formatter:v=>v.toFixed(2)},
  name:NRS,nameLocation:'middle',nameGap:64,nameRotate:90,nameTextStyle:{rich}};
// ---------- graphic : annotations, legends, caption
const graphic=[];
function tx(x,y,parts,size,align){
  const c=tx.ctx||(tx.ctx=document.createElement('canvas').getContext('2d'));
  const font=p=>{const k=p[1]||'';return (k.includes('i')?'italic ':'')+size+'px '+F;};
  const w=p=>{c.font=font(p);return c.measureText(p[0]).width;};
  let total=0;parts.forEach(p=>total+=w(p));
  let cx=align==='center'?x-total/2:x;
  parts.forEach(p=>{
    graphic.push({type:'text',z:100,x:cx,y:y+1.5,silent:true,style:{text:p[0],font:font(p),fill:'#1c1c1c',verticalAlign:'middle',align:'left'}});
    cx+=w(p);});
}
const SIG=n=>[[n+'',''],['σ','i']];
[[380,120,1],[381,147,2],[382,185,3],[405,232,1],[461,232,2],[518,232,3],[937,120,1],[937,147,2],[938,185,3],[1053,459,1],[1093,459,2],[1133,459,3],[395,724,1],[432,707,2],[467,687,3]]
 .forEach(a=>tx(a[0],a[1],SIG(a[2]),27,'center'));
tx(320,43,[['SM (1',''],['σ','i'],[')','']],27,'center');
tx(895,43,[['SM (1',''],['σ','i'],[')','']],27,'center');
tx(310,932,[['SM','']],25,'center');
function starPts(r){const o=[];for(let i=0;i<10;i++){const a=-Math.PI/2+i*Math.PI/5,q=i%2?r*.42:r;o.push([q*Math.cos(a),q*Math.sin(a)]);}return o;}
function legendBox(x,y,w,h,cx1,cx2,tx0,ys){
  graphic.push({type:'rect',z:90,silent:true,shape:{x,y,width:w,height:h,r:5},style:{fill:'rgba(255,255,255,0.8)',stroke:'rgba(204,204,204,0.8)',lineWidth:1}});
  const cols=[RED,ORANGE,BLUE];
  ys.forEach((yy,i)=>{
    graphic.push({type:'circle',z:95,silent:true,shape:{cx:cx1,cy:yy,r:5},style:{fill:cols[i]}});
    if(i===0)graphic.push({type:'polygon',z:95,silent:true,x:cx2,y:yy,shape:{points:starPts(5.5)},style:{fill:STAR}});
    if(i===1)graphic.push({type:'polygon',z:95,silent:true,x:cx2,y:yy,shape:{points:[[-.9,-4.5],[.9,-4.5],[.9,-.9],[4.5,-.9],[4.5,.9],[.9,.9],[.9,4.5],[-.9,4.5],[-.9,.9],[-4.5,.9],[-4.5,-.9],[-.9,-.9]]},style:{fill:PLUS}});
    if(i===2)graphic.push({type:'polygon',z:95,silent:true,x:cx2,y:yy,shape:{points:[[-4.5,-3.2],[-3.2,-4.5],[0,-1.3],[3.2,-4.5],[4.5,-3.2],[1.3,0],[4.5,3.2],[3.2,4.5],[0,1.3],[-3.2,4.5],[-4.5,3.2],[-1.3,0]]},style:{fill:CROSS}});
    tx(tx0,yy-1,[[legendRows[i],'']],27);
  });
}
legendBox(398,34.5,167,134.5,420,453,485,[61,102,144]);
legendBox(1016,34.5,167.5,134.5,1038,1071,1103,[61,102,144]);
legendBox(113.5,585.5,168.5,134.5,136.5,169,201.5,[611.5,653.5,695.5]);
// caption, word by word, justified to the right margin
const P=(t,k)=>[t,k||''];
const RDs=()=>[P('R','i'),P('('),P('D','i'),P('(','^s'),P('★','^su'),P(')','^s'),P(')')];
const captionLines=[
 [[P('Figure')],[P('6:')],[P('Predictions','b')],[P('for','b')],[P('R','bi'),P('(','b'),P('D','bi'),P('),','b')],[P('R','bi'),P('(','b'),P('D','bi'),P('★','^su'),P(')','b')],[P('and','b')]],
 [[P('Δ','b'),P('a','bi'),P('μ','_sbi'),P('.','b')],[P('The')],[P('regions')],[P('marked')],[P('by')],[P('solid')],[P('lines')],[P('are')],[P('com-')]],
 'patible with the current experimental world averages'.split(' ').map(w=>[P(w)]),
 [[P('for')],RDs(),[P('['),P('19','l'),P(']')],[P('and')],[P('Δ'),P('a','i'),P('μ','_si')],[P('['),P('21','l'),P(';')],[P('57','l'),P('],')],[P('respectively,')],[P('at')],[P('the')]],
 [[P('indicated')],[P('confidence')],[P('level,')],[P('see')],[P('table')],[P('4','l'),P('.')],[P('We')],[P('use')],[P('the')],[P('val-')]],
 [[P('ues')],[P('output')],[P('by')],[P('flavio','t'),P(',')],[P('v2.3')],[P('for')],[P('the')],[P('SM')],[P('predictions')],[P('for')]],
 [RDs(),[P('at')],[P('the')],[P('1')],[P('σ','i')],[P('level')],[P('['),P('62–64','l'),P('],')],[P('see')],[P('appendix')],[P('C.3.3','l'),P('.')]],
 'These are shown by the green shaded bands (top)'.split(' ').map(w=>[P(w)]),
 'and the black cross (bottom-left). The round points'.split(' ').map(w=>[P(w)]),
 '(geometric shapes) indicate that current experimen-'.split(' ').map(w=>[P(w)]),
 'tal bounds are violated (respected), see also the main'.split(' ').map(w=>[P(w)]),
 [[P('text')],[P('of')],[P('section')],[P('5.2.1','l'),P('.')]]
];
const captionY=[631,667,702,737,772,807,842,877,912,947,982,1017];
const captionLeft=622, captionRight=1241, captionSize=28;
(function(){
  const c=document.createElement('canvas').getContext('2d');
  const SX=k=>k.includes('t')?1:k.includes('b')?1.1:1.05;
  const font=p=>{const k=p[1]||'';const sz=k.includes('u')?11:k.includes('s')?19:k.includes('t')?26:captionSize;return (k.includes('i')?'italic ':'')+(k.includes('b')?'bold ':'')+sz+'px '+(k.includes('t')?'"Liberation Mono"':k.includes('u')?'"DejaVu Sans"':F);};
  const wd=p=>{c.font=font(p);return c.measureText(p[0]).width*SX(p[1]||'');};
  captionLines.forEach((line,i)=>{
    const ws=line.map(w=>w.reduce((s,p)=>s+wd(p),0)),tot=ws.reduce((a,b)=>a+b,0);
    const gap=i===captionLines.length-1?8:(captionRight-captionLeft-tot)/(line.length-1);
    let x=captionLeft;
    line.forEach((w,j)=>{
      let xx=x;
      w.forEach(p=>{const k=p[1];
        graphic.push({type:'text',z:100,silent:true,x:xx,y:captionY[i]+1+(k.includes('^')?-9:k.includes('_')?7:0),scaleX:SX(k),
          style:{text:p[0],font:font(p),fill:k.includes('l')?'#1a1aee':'#111',verticalAlign:'middle',align:'left'}});
        xx+=wd(p);});
      x+=ws[j]+gap;
    });
  });
})();
const chart=echarts.init(document.getElementById('c'),null,{renderer:'canvas',width:1230,height:1102});
const gridBase={outerBoundsMode:'none',containLabel:false};
chart.setOption({animation:false,backgroundColor:'#fff',
  grid:[Object.assign({left:113,top:20,width:466,height:463},gridBase),Object.assign({left:731.5,top:20,width:465.5,height:463},gridBase),Object.assign({left:100.5,top:571.5,width:465.5,height:462.5},gridBase)],
  xAxis:[xA(0,.2,.45,NR,40),xA(1,.2,.35,NRS,40),xA(2,.2,.45,NR,40)],
  yAxis:[yLog(0),yLog(1),yC],series,graphic});
</script></body></html>
